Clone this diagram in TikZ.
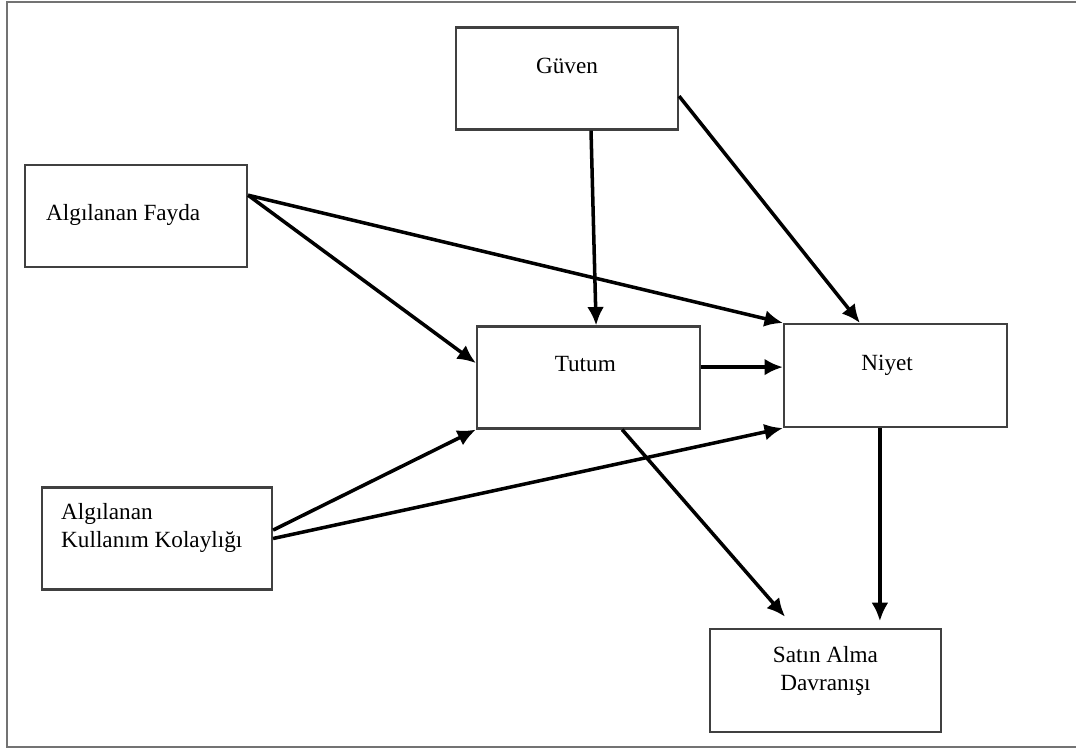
\documentclass[tikz,border=0pt]{standalone}
\usepackage{fontspec}
\setmainfont{Liberation Serif}
\usetikzlibrary{arrows.meta}

\begin{document}
\begin{tikzpicture}[x=0.025cm, y=-0.025cm,
    kutu/.style={draw=black!75, line width=1.5pt, rectangle, inner sep=0pt, minimum height=2.55cm},
    yazi/.style={inner sep=0pt, font=\fontsize{16.5}{20}\selectfont},
    ok/.style={line width=2.5pt, -{Latex[length=4.6mm, width=4.2mm]}}]

    \useasboundingbox (0,0) rectangle (1076,751);
    \draw[black!55, line width=1.5pt] (1076,2) -- (7,2) -- (7,747) -- (1076,747);

    % kutular
    \node[kutu, minimum width=5.55cm] (guven) at (567,78.5) {};
    \node[kutu, minimum width=5.55cm] (fayda) at (136,216) {};
    \node[kutu, minimum width=5.575cm] (tutum) at (588.5,377.5) {};
    \node[kutu, minimum width=5.575cm, minimum height=2.575cm] (niyet) at (895.5,375.5) {};
    \node[kutu, minimum width=5.75cm] (kolay) at (157,538.5) {};
    \node[kutu, minimum width=5.775cm, minimum height=2.575cm] (satin) at (825.5,680.5) {};

    \node[yazi, anchor=base] (guvenY) at ([yshift=-1.17cm]guven.north) {Güven};
    \node[yazi, anchor=base west] (faydaY) at ([xshift=0.55cm, yshift=-0.1cm]fayda.west) {Algılanan Fayda};
    \node[yazi, anchor=base] (tutumY) at ([xshift=-0.08cm, yshift=-1.15cm]tutum.north) {Tutum};
    \node[yazi, anchor=base] (niyetY) at ([xshift=-0.21cm, yshift=-1.2cm]niyet.north) {Niyet};
    \node[yazi, anchor=north west, align=left] (kolayY) at ([xshift=0.5cm, yshift=-0.42cm]kolay.north west) {Algılanan\\Kullanım Kolaylığı};
    \node[yazi, anchor=north, align=center] (satinY) at ([yshift=-0.46cm]satin.north) {Satın Alma\\Davranışı};

    % oklar
    \draw[ok] ([xshift=0.6cm]guven.south) -- ([xshift=0.19cm]tutum.north);
    \draw[ok] ([yshift=-0.44cm]guven.east) -- ([xshift=-0.89cm]niyet.north);
    \draw[ok] ([yshift=0.52cm]fayda.east) -- ([yshift=0.36cm]tutum.west);
    \draw[ok] ([yshift=0.52cm]fayda.east) -- (niyet.north west);
    \draw[ok] ([yshift=0.26cm]tutum.east) -- ([yshift=0.26cm]tutum.east -| niyet.west);
    \draw[ok] ([yshift=0.21cm]kolay.east) -- (tutum.south west);
    \draw[ok] (kolay.east) -- (niyet.south west);
    \draw[ok] ([xshift=0.84cm]tutum.south) -- ([xshift=-1.01cm, yshift=0.28cm]satin.north);
    \draw[ok] ([xshift=-0.39cm]niyet.south) -- ([xshift=-0.39cm, yshift=0.17cm]niyet.south |- satin.north);
\end{tikzpicture}
\end{document}
